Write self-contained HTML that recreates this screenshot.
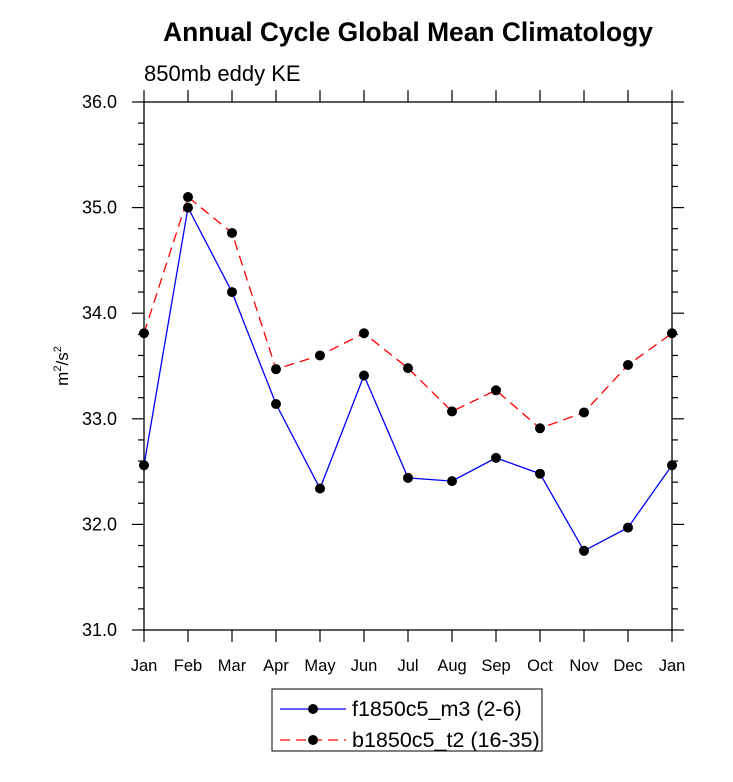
<!DOCTYPE html>
<html><head><meta charset="utf-8"><style>
html,body{margin:0;padding:0;background:#fff;}
svg{display:block;font-family:"Liberation Sans",Arial,sans-serif;}
</style></head><body>
<svg id="chart" width="733" height="782" viewBox="0 0 733 782">
<text x="408" y="41" text-anchor="middle" font-size="26.4" font-weight="bold">Annual Cycle Global Mean Climatology</text>
<text x="144" y="81" font-size="22">850mb eddy KE</text>
<text transform="translate(68,366) rotate(-90)" text-anchor="middle" font-size="17">m<tspan dy="-7" font-size="11">2</tspan><tspan dy="7">/s</tspan><tspan dy="-7" font-size="11">2</tspan></text>
<g id="axes"></g>
<g id="series"></g>
<g>
<rect x="272" y="689" width="270" height="62" fill="#fff" stroke="#000" stroke-width="1"/>
<line x1="280" y1="709" x2="346" y2="709" stroke="#0000ff" stroke-width="1.2"/>
<circle cx="313" cy="709" r="5" fill="#000"/>
<text x="352" y="716" font-size="21.5">f1850c5_m3 (2-6)</text>
<line x1="280" y1="740" x2="346" y2="740" stroke="#ff0000" stroke-width="1.2" stroke-dasharray="10,6"/>
<circle cx="313" cy="740" r="5" fill="#000"/>
<text x="352" y="747" font-size="21.5">b1850c5_t2 (16-35)</text>
</g>
</svg>
<script>
const months = ["Jan","Feb","Mar","Apr","May","Jun","Jul","Aug","Sep","Oct","Nov","Dec","Jan"];
const seriesF = [32.56,35.0,34.2,33.14,32.34,33.41,32.44,32.41,32.63,32.48,31.75,31.97,32.56];
const seriesB = [33.81,35.1,34.76,33.47,33.6,33.81,33.48,33.07,33.27,32.91,33.06,33.51,33.81];
const yTicks = ["31.0","32.0","33.0","34.0","35.0","36.0"];

const NS="http://www.w3.org/2000/svg";
const L=144,R=672,T=102,B=630,yMin=31,yMax=36;
const xs=i=>L+i*(R-L)/(months.length-1);
const ys=v=>B-(v-yMin)/(yMax-yMin)*(B-T);
function mk(tag,attrs,parent){const e=document.createElementNS(NS,tag);for(const k in attrs)e.setAttribute(k,attrs[k]);parent.appendChild(e);return e;}
const ax=document.getElementById('axes');
const frame=mk('rect',{x:L,y:T,width:R-L,height:B-T,fill:'none',stroke:'#000','stroke-width':1.3},ax);


for(let v=31;v<=36.001;v+=0.2){
  const major=Math.abs(v-Math.round(v))<1e-6, y=ys(v), len=major?12:6;
  const t1=mk('line',{x1:L-len,y1:y,x2:L,y2:y,stroke:'#000','stroke-width':1.2},ax);
  
  
  const t2=mk('line',{x1:R,y1:y,x2:R+len,y2:y,stroke:'#000','stroke-width':1.2},ax);
  
  
}
yTicks.forEach(s=>{
  const t=mk('text',{x:117,y:ys(parseFloat(s))+6,'text-anchor':'end','font-size':18},ax);t.textContent=s;
  
  
});
months.forEach((m,i)=>{
  const x=xs(i);
  const a=mk('line',{x1:x,y1:B,x2:x,y2:B+12,stroke:'#000','stroke-width':1.2},ax);
  
  
  const b=mk('line',{x1:x,y1:T-12,x2:x,y2:T,stroke:'#000','stroke-width':1.2},ax);
  
  
  const t=mk('text',{x:x,y:B+41,'text-anchor':'middle','font-size':16.5},ax);t.textContent=m;
  
  
});
const sg=document.getElementById('series');
function draw(vals,color,dash,name){
  const pl=mk('polyline',{points:vals.map((v,i)=>xs(i)+','+ys(v)).join(' '),fill:'none',stroke:color,'stroke-width':1.3,'stroke-dasharray':dash},sg);
  
  
  vals.forEach((v,i)=>{
    const c=mk('circle',{cx:xs(i),cy:ys(v),r:5,fill:'#000'},sg);
    
    
  });
}
draw(seriesB,'#ff0000','10,6','b1850');
draw(seriesF,'#0000ff','none','f1850');
</script>
</body></html>
